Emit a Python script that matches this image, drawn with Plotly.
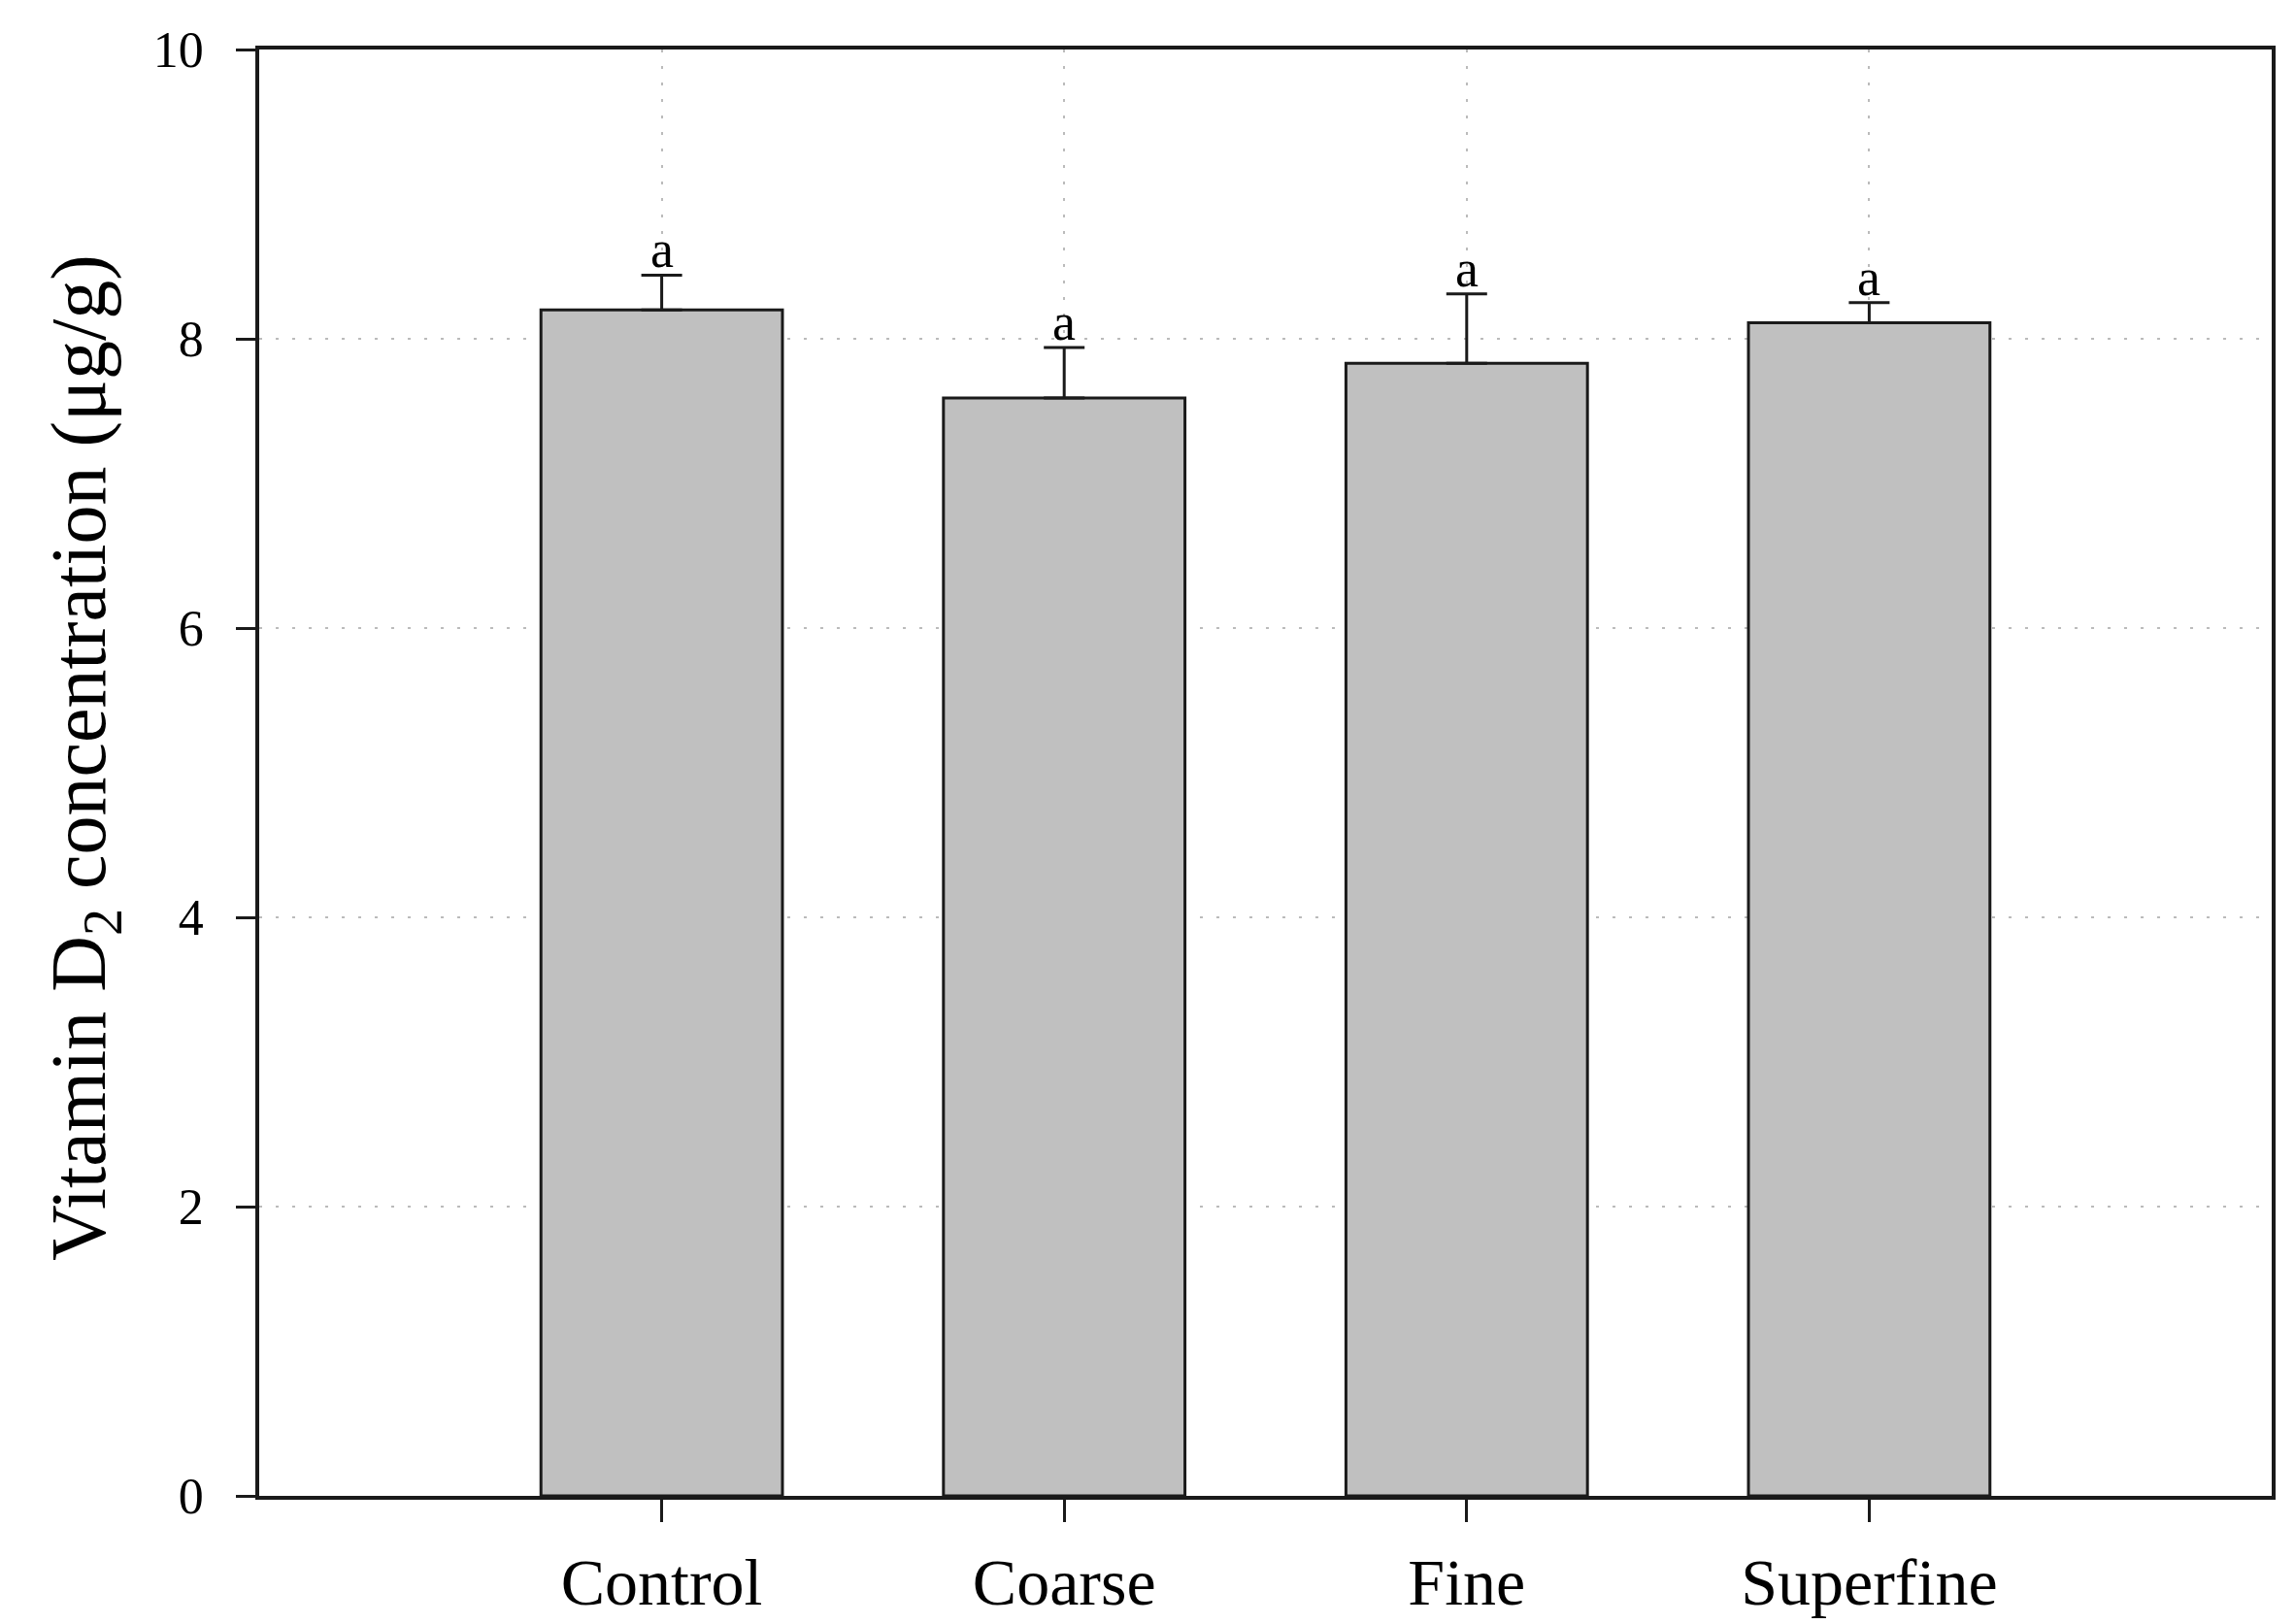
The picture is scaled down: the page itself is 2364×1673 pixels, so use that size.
import plotly.graph_objects as go

categories = ["Control", "Coarse", "Fine", "Superfine"]
values = [8.20, 7.59, 7.83, 8.11]
errors = [0.24, 0.35, 0.48, 0.14]
letters = ["a", "a", "a", "a"]
y_ticks = [0, 2, 4, 6, 8, 10]
y_title = "Vitamin D<sub>2</sub> concentration (μg/g)"

FONT = "Liberation Serif, Times New Roman, serif"

fig = go.Figure()
fig.add_trace(go.Bar(
    x=categories,
    y=values,
    width=0.6,
    marker=dict(color="#c0c0c0", line=dict(color="#1a1a1a", width=3)),
    error_y=dict(type="data", array=errors, arrayminus=[0] * len(errors),
                 symmetric=False, color="#1a1a1a", thickness=3, width=21),
    showlegend=False,
))

for c, v, e, t in zip(categories, values, errors, letters):
    fig.add_annotation(x=c, y=v + e, text=t, showarrow=False,
                       yanchor="bottom", yshift=-6,
                       font=dict(family=FONT, size=54, color="black"))

# y-axis title as a rotated annotation for precise placement
fig.add_annotation(xref="paper", yref="paper", x=0, y=0.51,
                   xanchor="center", yanchor="middle", xshift=-180,
                   text=y_title, textangle=-90, showarrow=False,
                   font=dict(family=FONT, size=80, color="black"))

fig.update_layout(
    width=2356, height=1665,
    margin=dict(l=259, r=24, t=43, b=132),
    paper_bgcolor="white", plot_bgcolor="white",
    font=dict(family=FONT, color="black"),
)
fig.update_xaxes(
    range=[-1, 4], automargin=False,
    showline=True, mirror=True, linecolor="#1a1a1a", linewidth=3.5,
    ticks="outside", ticklen=23, tickwidth=3, tickcolor="#1a1a1a",
    tickfont=dict(family=FONT, size=68, color="black"),
    ticklabelstandoff=4,
    showgrid=True, gridcolor="#bbbbbb", gridwidth=2, griddash="3px,14px",
)
fig.update_yaxes(
    range=[0, 10], tickvals=y_ticks, automargin=False,
    showline=True, mirror=True, linecolor="#1a1a1a", linewidth=3.5,
    ticks="outside", ticklen=20, tickwidth=3, tickcolor="#1a1a1a",
    tickfont=dict(family=FONT, size=52, color="black"),
    ticklabelstandoff=23,
    showgrid=True, gridcolor="#bbbbbb", gridwidth=2, griddash="3px,14px",
    zeroline=False,
)

fig.write_html("out.html")
